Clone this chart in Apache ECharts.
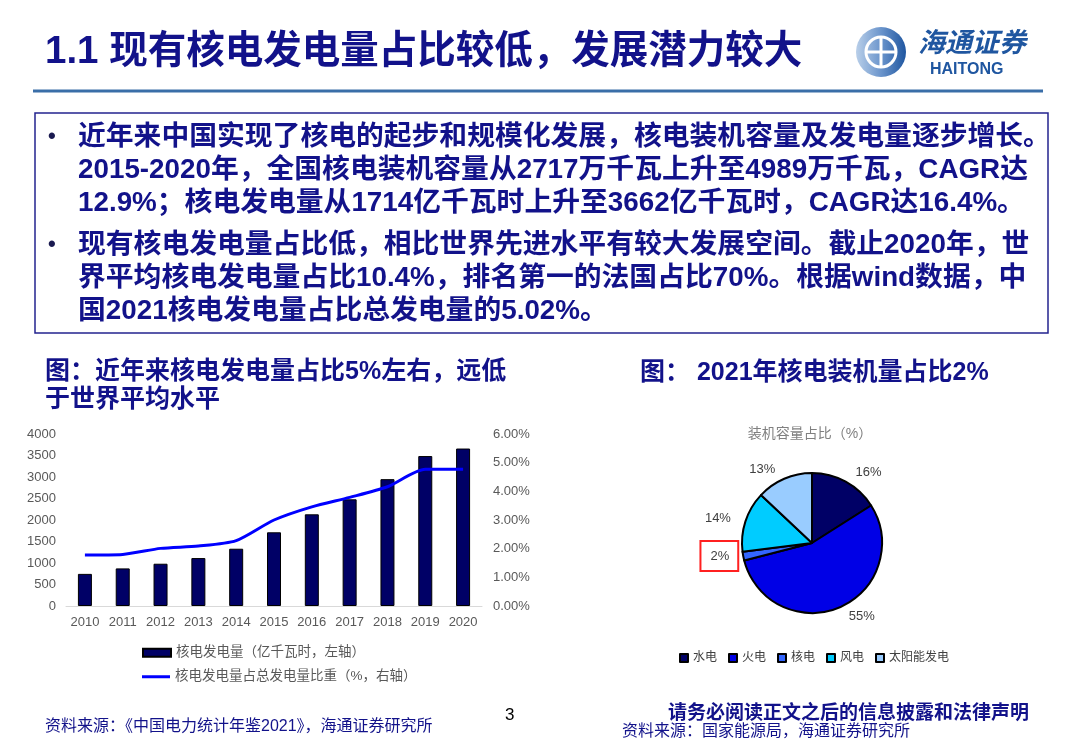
<!DOCTYPE html>
<html><head><meta charset="utf-8">
<script src="https://cdn.jsdelivr.net/npm/echarts@6/dist/echarts.min.js"></script>
<style>html,body{margin:0;padding:0;background:#fff}#c{width:1083px;height:748px}</style>
</head><body><div id="c"></div>
<script>
const years = ['2010','2011','2012','2013','2014','2015','2016','2017','2018','2019','2020'];
const generation = [747, 874, 983, 1115, 1332, 1714, 2132, 2481, 2950, 3487, 3662];
const shareOfTotal = [0.0178, 0.0180, 0.0201, 0.0209, 0.0228, 0.0300, 0.0346, 0.0379, 0.0416, 0.0477, 0.0477];
const pieNames = ['水电','火电','核电','风电','太阳能发电'];
const pieValues = [16, 55, 2, 14, 13];
const pieColors = ['#000066','#0000e6','#3366ff','#00ccff','#99ccff'];
const barName = '核电发电量（亿千瓦时，左轴）';
const lineName = '核电发电量占总发电量比重（%，右轴）';

const FF = '"Liberation Sans", "Noto Sans CJK SC", sans-serif';
const NAVY = '#12128a';

const bodyLines = [
  ['•', '近年来中国实现了核电的起步和规模化发展，核电装机容量及发电量逐步增长。'],
  ['', '2015-2020年，全国核电装机容量从2717万千瓦上升至4989万千瓦，CAGR达'],
  ['', '12.9%；核电发电量从1714亿千瓦时上升至3662亿千瓦时，CAGR达16.4%。'],
  ['•', '现有核电发电量占比低，相比世界先进水平有较大发展空间。截止2020年，世'],
  ['', '界平均核电发电量占比10.4%，排名第一的法国占比70%。根据wind数据，中'],
  ['', '国2021核电发电量占比总发电量的5.02%。']
];
const bodyY = [137, 170, 203, 245, 278, 311];

function txt(x, y, text, size, color, weight, align, style) {
  return {
    type: 'text', x: x, y: y,
    style: Object.assign({ text: text, fontSize: size, fill: color, fontWeight: weight || 'normal',
      fontFamily: FF, textAlign: align || 'left', textVerticalAlign: 'middle' }, style || {})
  };
}

const graphics = [];
graphics.push(txt(45, 52, '1.1 现有核电发电量占比较低，发展潜力较大', 38.5, NAVY, 'bold'));
// logo
graphics.push({ type: 'circle', shape: { cx: 881, cy: 52, r: 25 },
  style: { fill: new echarts.graphic.LinearGradient(0, 0, 1, 0, [{offset:0,color:'#b9cfe9'},{offset:0.5,color:'#6b95cc'},{offset:1,color:'#1f56a0'}]) } });
graphics.push({ type: 'circle', shape: { cx: 881, cy: 52, r: 15 }, style: { fill: 'none', stroke: '#fff', lineWidth: 3 } });
graphics.push({ type: 'line', shape: { x1: 866, y1: 52, x2: 896, y2: 52 }, style: { stroke: '#fff', lineWidth: 3 } });
graphics.push({ type: 'line', shape: { x1: 881, y1: 37, x2: 881, y2: 67 }, style: { stroke: '#fff', lineWidth: 3 } });
graphics.push(txt(918, 45, '海通证券', 27, '#1f56a0', 'bold', 'left', { fontStyle: 'italic' }));
graphics.push(txt(930, 70, 'HAITONG', 16, '#1f56a0', 'bold'));
graphics.push({ type: 'line', shape: { x1: 33, y1: 91, x2: 1043, y2: 91 }, style: { stroke: '#3a6ea8', lineWidth: 3 } });
// text box
graphics.push({ type: 'rect', shape: { x: 35, y: 113, width: 1013, height: 220 }, style: { fill: 'none', stroke: '#23238f', lineWidth: 1.5 } });
bodyLines.forEach(function (l, i) {
  if (l[0]) graphics.push(txt(48, bodyY[i], l[0], 22, '#1a1a50', 'bold'));
  graphics.push(txt(78, bodyY[i], l[1], 27.8, NAVY, 'bold'));
});
// subtitles
graphics.push(txt(45, 372, '图：近年来核电发电量占比5%左右，远低', 25, NAVY, 'bold'));
graphics.push(txt(45, 400, '于世界平均水平', 25, NAVY, 'bold'));
graphics.push(txt(640, 373, '图： 2021年核电装机量占比2%', 25, NAVY, 'bold'));
graphics.push(txt(810, 434, '装机容量占比（%）', 14, '#808080', 'normal', 'center'));
// footer
graphics.push(txt(45, 727, '资料来源：《中国电力统计年鉴2021》，海通证券研究所', 16, NAVY));
graphics.push(txt(505, 715, '3', 17, '#000'));
graphics.push(txt(668, 714, '请务必阅读正文之后的信息披露和法律声明', 19, NAVY, 'bold'));
graphics.push(txt(622, 732, '资料来源：国家能源局，海通证券研究所', 16, NAVY));

const legendText = { color: '#595959', fontSize: 13.5, fontFamily: FF };

const chart = echarts.init(document.getElementById('c'), null, { renderer: 'canvas' });
chart.setOption({
  animation: false,
  backgroundColor: '#fff',
  textStyle: { fontFamily: FF },
  graphic: graphics,
  grid: { left: 66, right: 601, top: 434, bottom: 142 },
  xAxis: {
    type: 'category', data: years,
    axisLine: { lineStyle: { color: '#d9d9d9', width: 1 } },
    axisTick: { show: false },
    axisLabel: { color: '#595959', fontSize: 13, margin: 10, fontFamily: FF }
  },
  yAxis: [
    { type: 'value', min: 0, max: 4000, interval: 500, splitLine: { show: false },
      axisLabel: { color: '#595959', fontSize: 13, margin: 10, fontFamily: FF,
        formatter: function (v) { return String(v); } } },
    { type: 'value', min: 0, max: 0.06, interval: 0.01, splitLine: { show: false },
      axisLabel: { color: '#595959', fontSize: 13, margin: 11, fontFamily: FF,
        formatter: function (v) { return (v * 100).toFixed(2) + '%'; } } }
  ],
  legend: [
    { data: [barName], left: 137, top: 641, itemWidth: 28, itemHeight: 8, icon: 'rect',
      textStyle: legendText },
    { data: [lineName], left: 137, top: 665, itemWidth: 28, itemHeight: 3, icon: 'rect',
      textStyle: legendText },
    { data: pieNames, orient: 'horizontal', left: 674, top: 647, itemGap: 11,
      itemWidth: 8, itemHeight: 8, icon: 'rect',
      textStyle: { color: '#404040', fontSize: 12, fontFamily: FF } }
  ],
  series: [
    { name: barName, type: 'bar', data: generation, barWidth: 14, yAxisIndex: 0,
      itemStyle: { color: '#000066', borderColor: '#000', borderWidth: 1 } },
    { name: lineName, type: 'line', data: shareOfTotal, yAxisIndex: 1, symbol: 'none',
      smooth: 0.25, lineStyle: { color: '#0000ff', width: 3 }, itemStyle: { color: '#0000ff' } },
    { name: '装机容量占比', type: 'pie', center: [812, 543], radius: 70, startAngle: 90,
      clockwise: true, avoidLabelOverlap: false,
      itemStyle: { borderColor: '#000', borderWidth: 2 },
      label: { show: true, position: 'outside', formatter: '{c}%', color: '#404040', fontSize: 13, fontFamily: FF },
      labelLine: { show: false, length: 10, length2: 0 },
      data: pieNames.map(function (n, i) {
        const d = { name: n, value: pieValues[i], itemStyle: { color: pieColors[i] } };
        if (n === '核电') {
          d.label = { borderColor: '#ff2020', borderWidth: 2, padding: [9, 9, 8, 10] };
          d.labelLine = { show: false, length: 0, length2: 0 };
        }
        return d;
      })
    }
  ]
});
</script></body></html>
